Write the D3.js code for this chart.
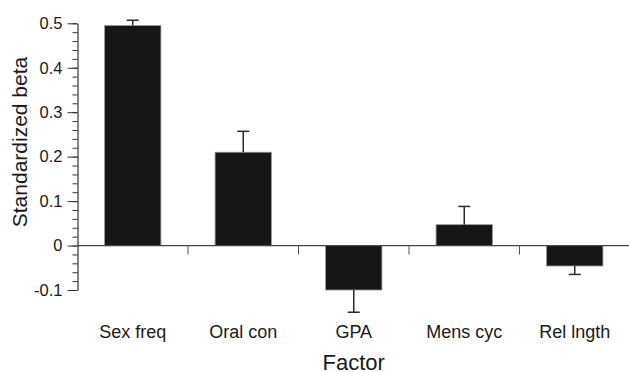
<!DOCTYPE html>
<html>
<head>
<meta charset="utf-8">
<script src="https://cdn.jsdelivr.net/npm/d3@7"></script>
<style>
  body { margin: 0; background: #fff; }
  text { font-family: "Liberation Sans", Arial, Helvetica, sans-serif; fill: #1a1a1a; }
</style>
</head>
<body>
<svg width="629" height="372"></svg>
<script>
var categories = ["Sex freq", "Oral con", "GPA", "Mens cyc", "Rel lngth"];
var betas = [0.495, 0.21, -0.10, 0.047, -0.046];
var errors = [0.012, 0.047, 0.05, 0.041, 0.019];
var yTicks = [-0.1, 0, 0.1, 0.2, 0.3, 0.4, 0.5];
var yTickLabels = ["-0.1", "0", "0.1", "0.2", "0.3", "0.4", "0.5"];

var svg = d3.select("svg");

var plotLeft = 77.5, plotRight = 630, plotTop = 23.3, plotBottom = 290;

var x = d3.scaleBand()
    .domain(categories)
    .range([plotLeft, plotRight])
    .paddingInner(0.49)
    .paddingOuter(0.245);

var y = d3.scaleLinear()
    .domain([-0.1, 0.5])
    .range([plotBottom, plotTop]);

function errEnd(d, i) {
    return y(d + (d >= 0 ? errors[i] : -errors[i]));
}

// bars
svg.selectAll("rect.bar")
    .data(betas)
    .enter().append("rect")
    .attr("class", "bar")
    .attr("x", function (d, i) { return x(categories[i]); })
    .attr("width", x.bandwidth())
    .attr("y", function (d) { return y(Math.max(0, d)); })
    .attr("height", function (d) { return Math.abs(y(d) - y(0)); })
    .style("fill", "#161616")
    .style("stroke", "#9a9a9a")
    .style("stroke-width", 0.8);

// error bars (one-sided, away from zero)
var eb = svg.selectAll("g.err")
    .data(betas)
    .enter().append("g")
    .attr("class", "err")
    .attr("transform", function (d, i) {
        return "translate(" + (x(categories[i]) + x.bandwidth() / 2) + ",0)";
    });

eb.append("line")
    .attr("y1", function (d) { return y(d); })
    .attr("y2", errEnd)
    .style("stroke", "#2a2a2a")
    .style("stroke-width", 1.5);

eb.append("line")
    .attr("x1", -6).attr("x2", 6)
    .attr("y1", errEnd)
    .attr("y2", errEnd)
    .style("stroke", "#2a2a2a")
    .style("stroke-width", 1.5);

// zero line with category ticks
svg.append("line")
    .attr("x1", plotLeft).attr("x2", plotRight)
    .attr("y1", y(0)).attr("y2", y(0))
    .style("stroke", "#444")
    .style("stroke-width", 1.2);

var step = x.step();
svg.selectAll("line.ctick")
    .data(categories.slice(1))
    .enter().append("line")
    .attr("class", "ctick")
    .attr("x1", function (d) { return x(d) - step * x.paddingInner() / 2; })
    .attr("x2", function (d) { return x(d) - step * x.paddingInner() / 2; })
    .attr("y1", y(0)).attr("y2", y(0) + 9)
    .style("stroke", "#555")
    .style("stroke-width", 1);

// category labels
svg.selectAll("text.cat")
    .data(categories)
    .enter().append("text")
    .attr("class", "cat")
    .attr("x", function (d) { return x(d) + x.bandwidth() / 2; })
    .attr("y", 337.5)
    .attr("text-anchor", "middle")
    .style("font-size", "18px")
    .text(function (d) { return d; });

// y axis: minor ticks
var minor = d3.range(-0.1, 0.5001, 0.02);
svg.append("g")
    .attr("transform", "translate(" + plotLeft + ",0)")
    .call(d3.axisLeft(y).tickValues(minor).tickSize(5).tickFormat(""))
    .call(function (g) { g.select(".domain").remove(); })
    .selectAll("line").style("stroke", "#333");

// y axis: major ticks
var yAxis = svg.append("g")
    .attr("transform", "translate(" + plotLeft + ",0)")
    .call(d3.axisLeft(y).tickValues(yTicks).tickSize(10).tickSizeOuter(0)
        .tickPadding(5)
        .tickFormat(function (d, i) { return yTickLabels[i]; }));
yAxis.select(".domain").style("stroke", "#333").style("stroke-width", 1.2);
yAxis.selectAll("line").style("stroke", "#333");
yAxis.selectAll("text")
    .style("font-size", "16.5px")
    .style("font-family", "'Liberation Sans', Arial, sans-serif")
    .style("fill", "#1a1a1a");

// axis titles
svg.append("text")
    .attr("transform", "translate(27,142) rotate(-90)")
    .attr("text-anchor", "middle")
    .style("font-size", "21px")
    .text("Standardized beta");

svg.append("text")
    .attr("x", (plotLeft + plotRight) / 2)
    .attr("y", 369.5)
    .attr("text-anchor", "middle")
    .style("font-size", "22px")
    .text("Factor");
</script>
</body>
</html>
